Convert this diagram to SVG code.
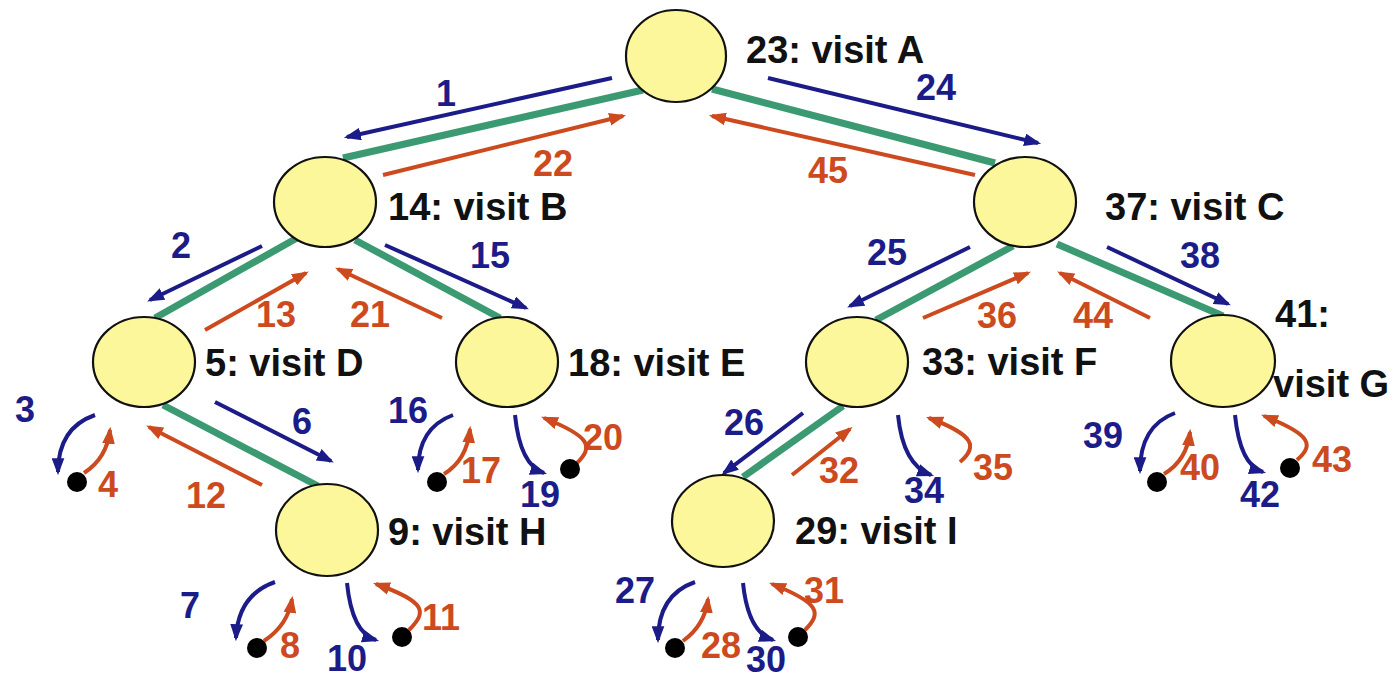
<svg xmlns="http://www.w3.org/2000/svg" width="1400" height="679" viewBox="0 0 1400 679">
<defs>
<style>
.nd{fill:#fdf79b;stroke:#111;stroke-width:2.2}
.lbl{font-family:"Liberation Sans",Arial,sans-serif;font-weight:bold;font-size:38px;fill:#111}
.nb{font-family:"Liberation Sans",Arial,sans-serif;font-weight:bold;font-size:36px;fill:#1c1c88;text-anchor:middle}
.no{font-family:"Liberation Sans",Arial,sans-serif;font-weight:bold;font-size:36px;fill:#cc4a1e;text-anchor:middle}
.g{stroke:#3b9a72;stroke-width:7;fill:none}
.b{stroke:#1c1c88;stroke-width:4;fill:none;marker-end:url(#ab)}
.o{stroke:#cc4a1e;stroke-width:4;fill:none;marker-end:url(#ao)}
.dot{fill:#000}
</style>
<marker id="ab" viewBox="0 0 16 12" refX="13" refY="6" markerWidth="17" markerHeight="13" markerUnits="userSpaceOnUse" orient="auto"><path d="M0,0 L16,6 L0,12 z" fill="#1c1c88"/></marker>
<marker id="ao" viewBox="0 0 16 12" refX="13" refY="6" markerWidth="17" markerHeight="13" markerUnits="userSpaceOnUse" orient="auto"><path d="M0,0 L16,6 L0,12 z" fill="#cc4a1e"/></marker>
</defs>
<rect width="1400" height="679" fill="#fff"/>
<g id="connectors">
<path class="g" d="M643,90 L343,158"/>
<path class="g" d="M712,89 L995,163"/>
<path class="g" d="M297,238 L155,318"/>
<path class="g" d="M355,240 L500,318"/>
<path class="g" d="M1013,246 L876,320"/>
<path class="g" d="M1057,244 L1223,316"/>
<path class="g" d="M163,405 L318,486"/>
<path class="g" d="M843,406 L743,477"/>
<path class="b" d="M612,78 L347,137"/>
<path class="o" d="M383,175 L623,116"/>
<path class="b" d="M768,78 L1038,143"/>
<path class="o" d="M975,175 L712,116"/>
<path class="b" d="M262,246 L150,300"/>
<path class="o" d="M205,330 L306,273"/>
<path class="o" d="M442,318 L338,269"/>
<path class="b" d="M385,245 L526,308"/>
<path class="b" d="M970,247 L850,306"/>
<path class="o" d="M923,318 L1028,273"/>
<path class="o" d="M1150,318 L1060,273"/>
<path class="b" d="M1107,247 L1228,304"/>
<path class="b" d="M215,402 L331,461"/>
<path class="o" d="M262,485 L149,427"/>
<path class="b" d="M803,413 L724,473"/>
<path class="o" d="M792,475 L850,429"/>
<path class="b" d="M95,415 Q58,428 58,472"/>
<path class="o" d="M84,473 Q107,458 110,430"/>
<path class="b" d="M453,415 Q418,428 418,470"/>
<path class="o" d="M444,474 Q467,460 470,429"/>
<path class="b" d="M515,415 Q520,465 544,473"/>
<path class="o" d="M577,463 C593,447 592,437 544,418"/>
<path class="b" d="M275,582 Q238,595 236,638"/>
<path class="o" d="M264,641 Q288,625 292,599"/>
<path class="b" d="M347,583 Q352,633 376,640"/>
<path class="o" d="M409,630 C427,612 427,602 376,584"/>
<path class="b" d="M898,415 Q903,465 931,475"/>
<path class="o" d="M960,462 C978,447 975,435 929,418"/>
<path class="b" d="M1175,413 Q1140,426 1140,471"/>
<path class="o" d="M1164,474 Q1187,460 1190,432"/>
<path class="b" d="M1235,415 Q1240,465 1263,472"/>
<path class="o" d="M1297,460 C1314,445 1312,435 1264,416"/>
<path class="b" d="M695,582 Q658,595 658,640"/>
<path class="o" d="M683,641 Q705,625 708,599"/>
<path class="b" d="M743,583 Q748,632 773,640"/>
<path class="o" d="M805,630 C822,613 820,603 772,584"/>
<text class="nb" x="446" y="106">1</text>
<text class="no" x="553" y="176">22</text>
<text class="nb" x="936" y="100">24</text>
<text class="no" x="828" y="183">45</text>
<text class="nb" x="181" y="258">2</text>
<text class="no" x="276" y="327">13</text>
<text class="no" x="370" y="327">21</text>
<text class="nb" x="490" y="268">15</text>
<text class="nb" x="887" y="265">25</text>
<text class="no" x="997" y="328">36</text>
<text class="no" x="1093" y="328">44</text>
<text class="nb" x="1200" y="268">38</text>
<text class="nb" x="25" y="422">3</text>
<text class="no" x="108" y="497">4</text>
<text class="nb" x="302" y="434">6</text>
<text class="no" x="206" y="508">12</text>
<text class="nb" x="408" y="423">16</text>
<text class="no" x="481" y="483">17</text>
<text class="nb" x="540" y="507">19</text>
<text class="no" x="603" y="450">20</text>
<text class="nb" x="190" y="618">7</text>
<text class="no" x="290" y="658">8</text>
<text class="nb" x="347" y="671">10</text>
<text class="no" x="441" y="630">11</text>
<text class="nb" x="744" y="435">26</text>
<text class="no" x="839" y="483">32</text>
<text class="nb" x="924" y="503">34</text>
<text class="no" x="993" y="480">35</text>
<text class="nb" x="1103" y="448">39</text>
<text class="no" x="1200" y="480">40</text>
<text class="nb" x="1260" y="507">42</text>
<text class="no" x="1332" y="472">43</text>
<text class="nb" x="635" y="603">27</text>
<text class="no" x="721" y="658">28</text>
<text class="nb" x="766" y="672">30</text>
<text class="no" x="824" y="603">31</text>
</g>
<g id="node-A"><ellipse class="nd" cx="676" cy="56" rx="50" ry="46"/><text class="lbl" x="746" y="63">23: visit A</text></g>
<g id="node-B"><ellipse class="nd" cx="325" cy="202" rx="51" ry="45"/><text class="lbl" x="388" y="220">14: visit B</text></g>
<g id="node-C"><ellipse class="nd" cx="1025" cy="202" rx="51" ry="45"/><text class="lbl" x="1105" y="220">37: visit C</text></g>
<g id="node-D"><ellipse class="nd" cx="144" cy="362" rx="51" ry="45"/><text class="lbl" x="205" y="376">5: visit D</text></g>
<g id="node-E"><ellipse class="nd" cx="507" cy="362" rx="51" ry="45"/><text class="lbl" x="568" y="376">18: visit E</text></g>
<g id="node-F"><ellipse class="nd" cx="857" cy="362" rx="51" ry="45"/><text class="lbl" x="922" y="375">33: visit F</text></g>
<g id="node-G"><ellipse class="nd" cx="1223" cy="361" rx="52" ry="46"/><text class="lbl" x="1275" y="327">41:</text><text class="lbl" x="1273" y="397">visit G</text></g>
<g id="node-H"><ellipse class="nd" cx="327" cy="530" rx="51" ry="46"/><text class="lbl" x="388" y="545">9: visit H</text></g>
<g id="node-I"><ellipse class="nd" cx="723" cy="521" rx="51" ry="46"/><text class="lbl" x="795" y="544">29: visit I</text></g>
<g id="leaf-D-left"><circle class="dot" cx="77" cy="482" r="10"/></g>
<g id="leaf-E-left"><circle class="dot" cx="437" cy="482" r="10"/></g>
<g id="leaf-E-right"><circle class="dot" cx="570" cy="469" r="10"/></g>
<g id="leaf-H-left"><circle class="dot" cx="257" cy="648" r="10"/></g>
<g id="leaf-H-right"><circle class="dot" cx="402" cy="637" r="10"/></g>
<g id="leaf-G-left"><circle class="dot" cx="1157" cy="482" r="10"/></g>
<g id="leaf-G-right"><circle class="dot" cx="1290" cy="468" r="10"/></g>
<g id="leaf-I-left"><circle class="dot" cx="675" cy="648" r="10"/></g>
<g id="leaf-I-right"><circle class="dot" cx="798" cy="637" r="10"/></g>
</svg>
